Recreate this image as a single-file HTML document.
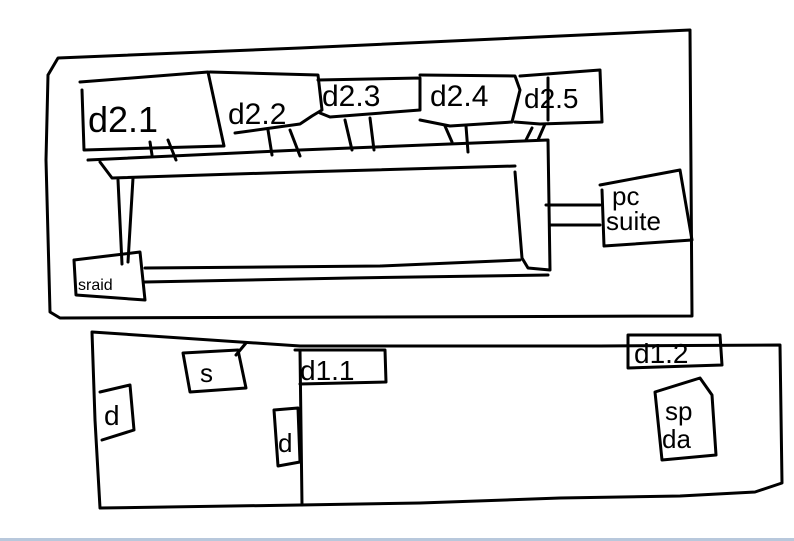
<!DOCTYPE html>
<html><head><style>
html,body{margin:0;padding:0;background:#fff;width:794px;height:541px;overflow:hidden}
svg{display:block}
text{font-family:"Liberation Sans",sans-serif;fill:#000}
</style></head><body>
<svg width="794" height="541" viewBox="0 0 794 541">
<g fill="none" stroke="#000" stroke-width="3" stroke-linecap="round" stroke-linejoin="round">
<path d="M48,75 L58,58 L300,48 L690,30 L692,316 L60,318 L50,312 L46,160 L48,75"/>
<path d="M80,82 L208,72 L224,146 L84,150 L82,90"/>
<path d="M210,72 L318,75 L322,110 L312,116 L300,124 L235,133"/>
<path d="M318,80 L420,78 L420,110 L330,117 L320,113"/>
<path d="M420,75 L515,76 L520,90 L512,122 L450,126 L420,120"/>
<path d="M520,76 L600,70 L602,122 L540,124 L515,122"/>
<path d="M548,78 L548,120"/>
<path d="M88,160 L300,150 L548,140 L550,270 L528,268 L522,258 L515,172"/>
<path d="M100,162 L112,178 L300,172 L515,166"/>
<path d="M118,180 L122,264"/>
<path d="M133,178 L128,262"/>
<path d="M145,268 L380,266 L520,260"/>
<path d="M145,282 L350,278 L548,275"/>
<path d="M150,142 L152,155"/><path d="M168,140 L176,160"/>
<path d="M268,130 L272,155"/><path d="M290,130 L300,156"/>
<path d="M345,120 L352,150"/><path d="M370,118 L374,150"/>
<path d="M445,126 L452,142"/><path d="M466,126 L468,152"/>
<path d="M532,128 L526,140"/><path d="M545,124 L538,140"/>
<path d="M74,260 L140,252 L145,300 L76,295 Z"/>
<path d="M600,185 L680,170 L692,240 L604,246 L602,190"/>
<path d="M546,205 L600,205"/><path d="M550,225 L600,225"/>
<path d="M92,332 L300,346 L600,346 L780,345 L782,483 L755,492 L680,496 L560,498 L420,503 L300,505 L100,508 L95,420 L92,332"/>
<path d="M300,350 L302,505"/>
<path d="M183,353 L238,350 L246,388 L190,392 Z"/>
<path d="M236,355 L246,343"/>
<path d="M295,350 L385,350 L386,382 L300,384"/>
<path d="M628,335 L720,335 L722,365 L628,368 Z"/>
<path d="M655,392 L700,378 L712,395 L716,455 L662,460 Z"/>
<path d="M100,392 L130,385 L134,430 L102,440"/>
<path d="M274,410 L298,408 L300,462 L278,466 Z"/>
</g>
<g>
<text x="88" y="132" font-size="36">d2.1</text>
<text x="228" y="124" font-size="30">d2.2</text>
<text x="322" y="106" font-size="30">d2.3</text>
<text x="430" y="106" font-size="30">d2.4</text>
<text x="524" y="108" font-size="28">d2.5</text>
<text x="78" y="290" font-size="16">sraid</text>
<text x="612" y="205" font-size="26">pc</text>
<text x="606" y="230" font-size="26">suite</text>
<text x="200" y="382" font-size="26">s</text>
<text x="300" y="380" font-size="28">d1.1</text>
<text x="634" y="363" font-size="28">d1.2</text>
<text x="665" y="420" font-size="26">sp</text>
<text x="662" y="448" font-size="26">da</text>
<text x="104" y="425" font-size="28">d</text>
<text x="278" y="452" font-size="26">d</text>
</g>
<rect x="0" y="538" width="794" height="3" fill="#b8c8dc"/>
</svg>
</body></html>
